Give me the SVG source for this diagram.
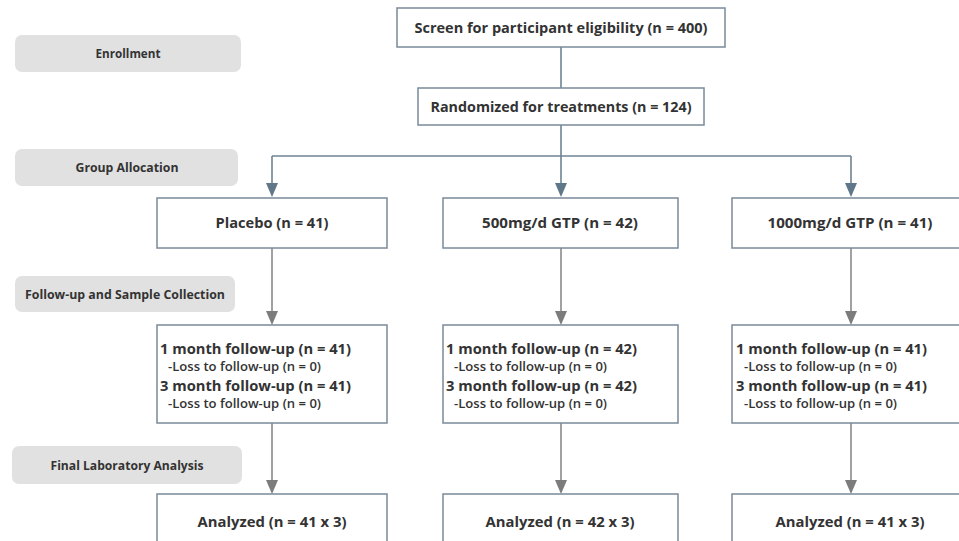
<svg xmlns="http://www.w3.org/2000/svg" width="959" height="541" viewBox="0 0 959 541">
<defs>
<style>
.box{fill:#fff;stroke:#7a8b99;stroke-width:1.5}
.pill{fill:#e1e1e1}
.t{font-family:"Open Sans","Noto Sans",sans-serif;font-weight:700;fill:#333;}
.m{font-size:15px;text-anchor:middle}
.p{font-size:13px;text-anchor:middle}
.f{font-size:15px}
.l{font-size:12px;font-weight:600}
.c1{stroke:#6e8394;stroke-width:1.6;fill:none}
.c2{stroke:#8a8a8a;stroke-width:1.6;fill:none}
</style>
</defs>
<rect width="959" height="541" fill="#fff"/>

<g id="connectors">
<line class="c1" x1="561" y1="47" x2="561" y2="88"/>
<line class="c1" x1="561" y1="125" x2="561" y2="156"/>
<line class="c1" x1="272" y1="156" x2="851" y2="156"/>
<path d="M272,156 V183" class="c1"/><path d="M272,183 l-6,0 l6,14 l6,-14 z" fill="#5f7788"/>
<path d="M561,156 V183" class="c1"/><path d="M561,183 l-6,0 l6,14 l6,-14 z" fill="#5f7788"/>
<path d="M851,156 V183" class="c1"/><path d="M851,183 l-6,0 l6,14 l6,-14 z" fill="#5f7788"/>
<path d="M272,248 V311" class="c2"/><path d="M272,311 l-6,0 l6,14 l6,-14 z" fill="#7c7c7c"/>
<path d="M561,248 V311" class="c2"/><path d="M561,311 l-6,0 l6,14 l6,-14 z" fill="#7c7c7c"/>
<path d="M851,248 V311" class="c2"/><path d="M851,311 l-6,0 l6,14 l6,-14 z" fill="#7c7c7c"/>
<path d="M272,423 V480" class="c2"/><path d="M272,480 l-6,0 l6,14 l6,-14 z" fill="#7c7c7c"/>
<path d="M561,423 V480" class="c2"/><path d="M561,480 l-6,0 l6,14 l6,-14 z" fill="#7c7c7c"/>
<path d="M851,423 V480" class="c2"/><path d="M851,480 l-6,0 l6,14 l6,-14 z" fill="#7c7c7c"/>
</g>

<g id="stage-enrollment"><rect class="pill" x="15" y="35" width="226" height="37" rx="7"/><text class="t p" x="128" y="58" textLength="65" lengthAdjust="spacingAndGlyphs">Enrollment</text></g>
<g id="stage-allocation"><rect class="pill" x="15" y="149" width="223" height="37" rx="7"/><text class="t p" x="127" y="172" textLength="103" lengthAdjust="spacingAndGlyphs">Group Allocation</text></g>
<g id="stage-followup"><rect class="pill" x="15" y="276" width="220" height="36" rx="7"/><text class="t p" x="125" y="299" textLength="200" lengthAdjust="spacingAndGlyphs">Follow-up and Sample Collection</text></g>
<g id="stage-analysis"><rect class="pill" x="12" y="446" width="230" height="38" rx="7"/><text class="t p" x="127" y="470" textLength="153" lengthAdjust="spacingAndGlyphs">Final Laboratory Analysis</text></g>

<g id="screen"><rect class="box" x="397" y="8" width="328" height="39"/><text class="t m" x="561" y="33" textLength="293" lengthAdjust="spacingAndGlyphs">Screen for participant eligibility (n = 400)</text></g>
<g id="randomized"><rect class="box" x="418" y="88" width="286" height="37"/><text class="t m" x="561" y="112" textLength="261" lengthAdjust="spacingAndGlyphs">Randomized for treatments (n = 124)</text></g>

<g id="placebo"><rect class="box" x="157" y="198" width="230" height="50"/><text class="t m" x="272" y="228" textLength="113" lengthAdjust="spacingAndGlyphs">Placebo (n = 41)</text></g>
<g id="gtp500"><rect class="box" x="443" y="198" width="235" height="50"/><text class="t m" x="560" y="228" textLength="156" lengthAdjust="spacingAndGlyphs">500mg/d GTP (n = 42)</text></g>
<g id="gtp1000"><rect class="box" x="732" y="198" width="240" height="50"/><text class="t m" x="850" y="228" textLength="165" lengthAdjust="spacingAndGlyphs">1000mg/d GTP (n = 41)</text></g>

<g id="followup-placebo"><rect class="box" x="157" y="325" width="230" height="98"/>
<text class="t f" x="160" y="354" textLength="191" lengthAdjust="spacingAndGlyphs">1 month follow-up (n = 41)</text>
<text class="t l" x="168" y="371" textLength="153" lengthAdjust="spacingAndGlyphs">-Loss to follow-up (n = 0)</text>
<text class="t f" x="160" y="391" textLength="191" lengthAdjust="spacingAndGlyphs">3 month follow-up (n = 41)</text>
<text class="t l" x="168" y="408" textLength="153" lengthAdjust="spacingAndGlyphs">-Loss to follow-up (n = 0)</text></g>
<g id="followup-500"><rect class="box" x="443" y="325" width="235" height="98"/>
<text class="t f" x="446" y="354" textLength="191" lengthAdjust="spacingAndGlyphs">1 month follow-up (n = 42)</text>
<text class="t l" x="454" y="371" textLength="153" lengthAdjust="spacingAndGlyphs">-Loss to follow-up (n = 0)</text>
<text class="t f" x="446" y="391" textLength="191" lengthAdjust="spacingAndGlyphs">3 month follow-up (n = 42)</text>
<text class="t l" x="454" y="408" textLength="153" lengthAdjust="spacingAndGlyphs">-Loss to follow-up (n = 0)</text></g>
<g id="followup-1000"><rect class="box" x="732" y="325" width="240" height="98"/>
<text class="t f" x="736" y="354" textLength="191" lengthAdjust="spacingAndGlyphs">1 month follow-up (n = 41)</text>
<text class="t l" x="744" y="371" textLength="153" lengthAdjust="spacingAndGlyphs">-Loss to follow-up (n = 0)</text>
<text class="t f" x="736" y="391" textLength="191" lengthAdjust="spacingAndGlyphs">3 month follow-up (n = 41)</text>
<text class="t l" x="744" y="408" textLength="153" lengthAdjust="spacingAndGlyphs">-Loss to follow-up (n = 0)</text></g>

<g id="analyzed-placebo"><rect class="box" x="157" y="494" width="230" height="60"/><text class="t m" x="272" y="527" textLength="149" lengthAdjust="spacingAndGlyphs">Analyzed (n = 41 x 3)</text></g>
<g id="analyzed-500"><rect class="box" x="443" y="494" width="235" height="60"/><text class="t m" x="560" y="527" textLength="149" lengthAdjust="spacingAndGlyphs">Analyzed (n = 42 x 3)</text></g>
<g id="analyzed-1000"><rect class="box" x="732" y="494" width="240" height="60"/><text class="t m" x="850" y="527" textLength="149" lengthAdjust="spacingAndGlyphs">Analyzed (n = 41 x 3)</text></g>
</svg>
